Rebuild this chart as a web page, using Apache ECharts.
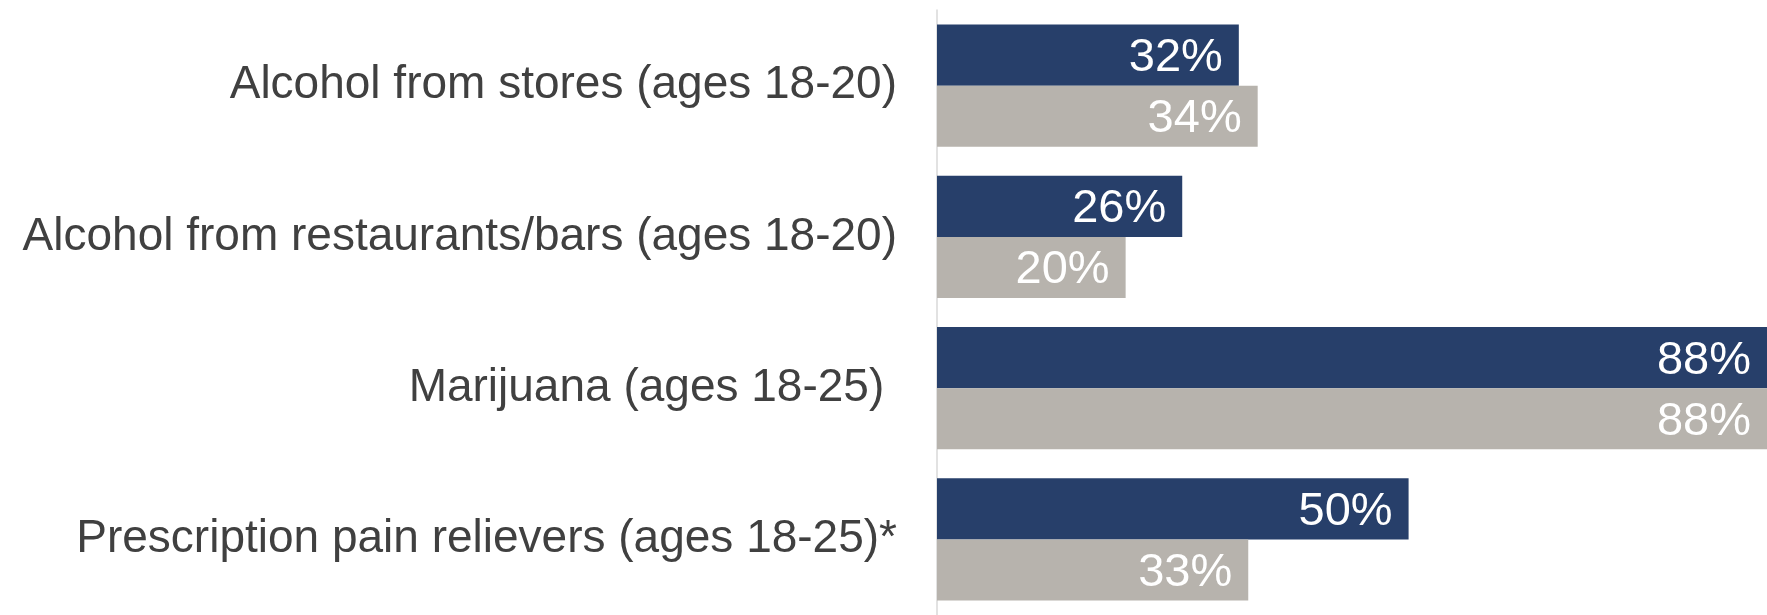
<!DOCTYPE html>
<html>
<head>
<meta charset="utf-8">
<script src="https://cdn.jsdelivr.net/npm/echarts@6/dist/echarts.min.js"></script>
<style>
html,body{margin:0;padding:0;background:#fff;}
#chart{width:1767px;height:615px;}
</style>
</head>
<body>
<div id="chart"></div>
<script>
const categories = [
  "Alcohol from stores (ages 18-20)",
  "Alcohol from restaurants/bars (ages 18-20)",
  "Marijuana (ages 18-25) ",
  "Prescription pain relievers (ages 18-25)*"
];
const seriesA = [32, 26, 88, 50];
const seriesB = [34, 20, 88, 33];

const chart = echarts.init(document.getElementById('chart'), null, {renderer: 'canvas'});
const labelStyle = {
  show: true,
  position: 'insideRight',
  distance: 16,
  offset: [0, 3],
  color: '#ffffff',
  fontFamily: 'Liberation Sans, Arial, sans-serif',
  fontSize: 47,
  formatter: p => p.value + '%'
};
chart.setOption({
  animation: false,
  backgroundColor: '#ffffff',
  grid: {left: 937, right: 0, top: 10, height: 609, containLabel: false},
  xAxis: {
    type: 'value', min: 0, max: 88,
    show: false
  },
  yAxis: {
    type: 'category',
    data: categories,
    inverse: true,
    axisLine: {show: true, lineStyle: {color: '#d9d9d9', width: 1.5}},
    axisTick: {show: false},
    splitLine: {show: false},
    axisLabel: {
      margin: 40,
      color: '#404040',
      fontFamily: 'Liberation Sans, Arial, sans-serif',
      fontSize: 46
    }
  },
  series: [
    {
      type: 'bar', data: seriesA, barGap: '0%', barCategoryGap: '19.2%',
      itemStyle: {color: '#273F6A'},
      label: labelStyle
    },
    {
      type: 'bar', data: seriesB, barGap: '0%', barCategoryGap: '19.2%',
      itemStyle: {color: '#B7B3AD'},
      label: labelStyle
    }
  ]
});
</script>
</body>
</html>
